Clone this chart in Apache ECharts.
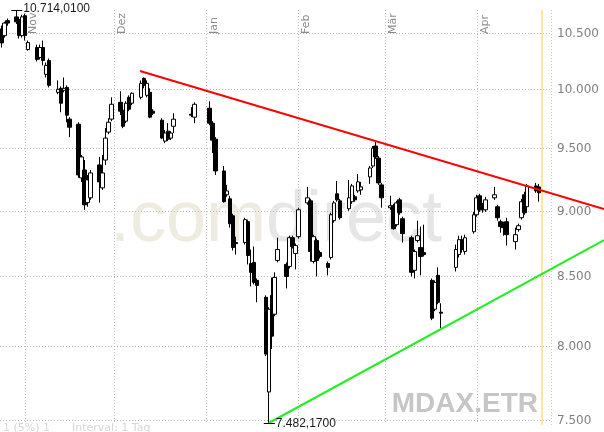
<!DOCTYPE html>
<html><head><meta charset="utf-8">
<script src="https://cdn.jsdelivr.net/npm/echarts@6/dist/echarts.min.js"></script>
<style>html,body{margin:0;padding:0;background:#fff}#c{width:604px;height:432px}</style>
</head><body><div id="c"></div>
<script>
// ---- data (MDAX, daily OHLC) ----
const dates = ['2007-10-24','2007-10-25','2007-10-26','2007-10-29','2007-10-30','2007-10-31','2007-11-01','2007-11-02',
'2007-11-05','2007-11-06','2007-11-07','2007-11-08','2007-11-09','2007-11-12','2007-11-13','2007-11-14','2007-11-15','2007-11-16',
'2007-11-19','2007-11-20','2007-11-21','2007-11-22','2007-11-23','2007-11-26','2007-11-27','2007-11-28','2007-11-29','2007-11-30',
'2007-12-03','2007-12-04','2007-12-05','2007-12-06','2007-12-07','2007-12-10','2007-12-11','2007-12-12','2007-12-13','2007-12-14',
'2007-12-17','2007-12-18','2007-12-19','2007-12-20','2007-12-21','2007-12-27','2007-12-28',
'2008-01-02','2008-01-03','2008-01-04','2008-01-07','2008-01-08','2008-01-09','2008-01-10','2008-01-11',
'2008-01-14','2008-01-15','2008-01-16','2008-01-17','2008-01-18','2008-01-21','2008-01-22','2008-01-23','2008-01-24','2008-01-25',
'2008-01-28','2008-01-29','2008-01-30','2008-01-31','2008-02-01','2008-02-04','2008-02-05','2008-02-06','2008-02-07','2008-02-08',
'2008-02-11','2008-02-12','2008-02-13','2008-02-14','2008-02-15','2008-02-18','2008-02-19','2008-02-20','2008-02-21','2008-02-22',
'2008-02-25','2008-02-26','2008-02-27','2008-02-28','2008-02-29','2008-03-03','2008-03-04','2008-03-05','2008-03-06','2008-03-07',
'2008-03-10','2008-03-11','2008-03-12','2008-03-13','2008-03-14','2008-03-17','2008-03-18','2008-03-19','2008-03-20',
'2008-03-25','2008-03-26','2008-03-27','2008-03-28','2008-03-31','2008-04-01','2008-04-02','2008-04-03','2008-04-04',
'2008-04-07','2008-04-08','2008-04-09','2008-04-10','2008-04-11','2008-04-14','2008-04-15','2008-04-16','2008-04-17','2008-04-18',
'2008-04-21','2008-04-22'];
const opens = [10538,10478,10615,10650,10626,10478,10661,10352,
10370,10281,10370,10131,10254,9974,10009,9991,10017,9744,
9701,9259,9323,9062,9100,9364,9179,9404,9635,9744,
9888,9820,9727,9931,9880,9931,10096,9948,9974,9812,
9735,9560,9643,9585,9684,9786,9761,
9837,9710,9576,9315,9124,9092,8959,8753,
8753,8913,8595,8603,8470,8346,7687,8360,8224,8618,
8588,8573,8790,8670,8798,9060,9076,8610,8768,8677,
8595,8640,8921,9132,9076,9014,9069,9108,9155,9163,
9267,9355,9519,9420,9203,9022,9037,8890,9084,8936,
8790,8544,8768,8715,8677,8470,8260,8507,8239,
8566,8662,8775,8685,8836,8967,9116,9045,9006,
9100,9030,8913,8898,8913,8760,8852,8944,9124,9030,
9195,9187];
const closes = [10412,10593,10593,10604,10478,10650,10478,10415,
10263,10370,10254,10210,10035,10000,9880,10009,9778,9676,
9283,9429,9045,9243,9299,9227,9299,9585,9718,9871,
9812,9684,9880,9829,9966,10052,10035,10052,9761,9795,
9585,9627,9576,9627,9744,9778,9871,
9710,9568,9315,9069,9155,8898,8715,8745,
8929,8655,8529,8455,8433,7944,8260,8069,8491,8700,
8499,8790,8723,8730,9006,9100,8685,8798,8618,8647,
8566,8967,9060,9084,8944,9100,9195,9084,9227,9187,
9339,9502,9429,9219,9100,9037,8859,9060,8983,8821,
8529,8685,8805,8647,8662,8196,8455,8310,8232,
8700,8775,8700,8790,8967,9100,9006,9006,9084,
9124,8944,8875,8867,8813,8813,8882,9069,8983,9195,
9155,9140];
const lows = [10370,10460,10569,10585,10451,10460,10433,10343,
10245,10263,10210,10104,10017,9957,9803,9974,9718,9593,
9259,9227,9006,9030,9084,9062,9163,9364,9618,9727,
9778,9668,9710,9812,9863,9914,10009,9931,9752,9778,
9576,9543,9560,9568,9627,9761,9710,
9693,9461,9283,9062,9108,8867,8693,8662,
8738,8588,8426,8440,8310,7930,7482.17,7979,8210,8603,
8411,8558,8708,8551,8783,9045,8610,8595,8499,8632,
8507,8625,8905,9069,8929,8998,9053,9069,9140,9124,
9211,9339,9412,9203,9022,9006,8852,8875,8967,8753,
8499,8484,8753,8507,8647,8182,8246,8296,8125,
8536,8640,8677,8662,8821,8952,8990,8983,8990,
9084,8921,8828,8805,8730,8700,8836,8929,8967,9014,
9140,9069];
const highs = [10569,10605,10635,10714.01,10650,10670,10680,10433,
10397,10397,10433,10236,10272,10078,10026,10104,10035,9761,
9718,9445,9404,9283,9323,9429,9445,9669,9752,9931,
9983,9837,9897,9948,9974,10078,10104,10078,10009,9829,
9752,9652,9710,9643,9795,9846,9888,
9897,9727,9593,9355,9203,9116,8975,8798,
8944,8929,8700,8723,8484,8360,8275,8491,8529,8790,
8603,8805,8805,8745,9022,9187,9092,8813,8783,8693,
8610,8983,9076,9235,9092,9243,9211,9124,9291,9227,
9355,9519,9560,9437,9219,9116,9053,9076,9100,8952,
8805,8700,8921,8875,8890,8484,8470,8566,8303,
8738,8805,8805,8813,8990,9124,9132,9060,9108,
9187,9045,8929,8913,8944,8867,8898,9092,9148,9211,
9219,9211];

const yTicks = [7500, 8000, 8500, 9000, 9500, 10000, 10500];
const yTickLabels = ['7.500', '8.000', '8.500', '9.000', '9.500', '10.000', '10.500'];
const monthStarts = ['2007-11-01', '2007-12-01', '2008-01-01', '2008-02-01', '2008-03-01', '2008-04-01'];
const monthLabels = ['Nov', 'Dez', 'Jan', 'Feb', 'Mär', 'Apr'];
const resistanceDates = ['2007-12-09T15:00:00', '2008-05-13T20:00:00'];
const resistanceValues = [10160, 9011];
const supportDates = ['2008-01-22T00:00:00', '2008-05-13T20:00:00'];
const supportValues = [7482.17, 8772];
const extremeDates = ['2007-10-29', '2008-01-22'];
const extremeValues = [10714.01, 7482.17];
const extremeLabels = ['10.714,0100', '7.482,1700'];
const todayDate = '2008-04-23';
const xMin = '2007-10-23T12:30:00';
const xMax = '2008-04-26T00:00:00';
const yMin = 7482.17, yMax = 10714.01;

// ---- chart ----
const L = Math.log;
const chart = echarts.init(document.getElementById('c'), null, {renderer: 'canvas'});
const candleData = dates.map((d, i) => [d, L(opens[i]), L(closes[i]), L(lows[i]), L(highs[i])]);

function trendSeries(ds, vs, color) {
  return {
    type: 'custom', z: 4, silent: true, clip: false,
    data: [[ds[0], L(vs[0]), ds[1], L(vs[1])]],
    encode: {x: [0, 2], y: [1, 3]},
    renderItem: function (params, api) {
      const a = api.coord([api.value(0), api.value(1)]);
      const b = api.coord([api.value(2), api.value(3)]);
      return {type: 'line', shape: {x1: a[0], y1: a[1], x2: b[0], y2: b[1]},
              style: {stroke: color, lineWidth: 2}};
    }
  };
}

chart.setOption({
  animation: false,
  backgroundColor: '#fff',
  grid: {left: 0, right: 53, top: 10, bottom: 9, containLabel: false},
  xAxis: {type: 'time', min: xMin, max: xMax, show: false, splitLine: {show: false}},
  yAxis: {type: 'value', min: L(yMin), max: L(yMax), show: false, splitLine: {show: false}, scale: true},
  graphic: [
    {type: 'text', x: 266, y: 221, z: 0, silent: true,
     style: {text: '.com', fill: '#eeebe0', font: '72px "Liberation Sans"', align: 'right', verticalAlign: 'middle'}},
    {type: 'text', x: 266, y: 221, z: 0, silent: true,
     style: {text: 'direct', fill: '#e6e6e6', font: '72px "Liberation Sans"', align: 'left', verticalAlign: 'middle'}},
    {type: 'text', x: 538, y: 404, z: 0, silent: true,
     style: {text: 'MDAX.ETR', fill: '#c6c6c6', font: 'bold 28px "Liberation Sans"', align: 'right', verticalAlign: 'middle'}},
    {type: 'text', x: 3, y: 428, z: 0, silent: true,
     style: {text: '1 (5%) 1', fill: '#d6d6d6', font: '11px "DejaVu Sans"', align: 'left', verticalAlign: 'middle'}},
    {type: 'text', x: 72, y: 428, z: 0, silent: true,
     style: {text: 'Interval: 1 Tag', fill: '#d6d6d6', font: '11px "DejaVu Sans"', align: 'left', verticalAlign: 'middle'}}
  ],
  series: [
    { // horizontal grid lines + value labels
      type: 'custom', z: 1, silent: true, clip: false,
      data: yTicks.map(v => [L(v)]),
      encode: {y: 0},
      renderItem: function (params, api) {
        const cs = params.coordSys;
        const y = Math.round(api.coord([xMin, api.value(0)])[1]) + 0.5;
        return {type: 'group', children: [
          {type: 'line', shape: {x1: cs.x, y1: y, x2: cs.x + cs.width, y2: y},
           style: {stroke: '#bdbdbd', lineWidth: 1, lineDash: [1, 2]}},
          {type: 'text', x: cs.x + cs.width + 6, y: y,
           style: {text: yTickLabels[params.dataIndex], fill: '#808080', font: '12px "DejaVu Sans"',
                   align: 'left', verticalAlign: 'middle'}}
        ]};
      }
    },
    { // month grid lines + rotated labels
      type: 'custom', z: 1, silent: true, clip: false,
      data: monthStarts.map(d => [d]),
      encode: {x: 0},
      renderItem: function (params, api) {
        const cs = params.coordSys;
        const x = Math.round(api.coord([api.value(0), L(yMax)])[0]) + 0.5;
        return {type: 'group', children: [
          {type: 'line', shape: {x1: x, y1: cs.y, x2: x, y2: cs.y + cs.height},
           style: {stroke: '#bdbdbd', lineWidth: 1, lineDash: [1, 2]}},
          {type: 'text', x: x + 2, y: 34, rotation: Math.PI / 2,
           style: {text: monthLabels[params.dataIndex], fill: '#8c8c8c', font: '11px "DejaVu Sans"',
                   align: 'left', verticalAlign: 'top'}}
        ]};
      }
    },
    { // right border and "today" marker
      type: 'custom', z: 1, silent: true, clip: false,
      data: [[xMax, 0], [todayDate, 1]],
      encode: {x: 0},
      renderItem: function (params, api) {
        const cs = params.coordSys;
        const today = params.dataIndex === 1;
        const x = Math.round(api.coord([api.value(0), L(yMax)])[0]) + (today ? 0 : 0.5);
        return {type: 'line', shape: {x1: x, y1: cs.y, x2: x, y2: cs.y + cs.height + 2},
                style: today ? {stroke: '#fde6a0', lineWidth: 2}
                             : {stroke: '#c8c8dc', lineWidth: 1, lineDash: [1, 2]}};
      }
    },
    {
      type: 'candlestick', z: 3, barWidth: 4,
      data: candleData,
      encode: {x: 0, y: [1, 2, 3, 4]},
      itemStyle: {color: '#ffffff', color0: '#000000', borderColor: '#000000', borderColor0: '#000000',
                  borderColorDoji: '#000000', borderWidth: 1}
    },
    trendSeries(resistanceDates, resistanceValues, '#ff0000'),
    trendSeries(supportDates, supportValues, '#22ee22'),
    { // high / low markers
      type: 'custom', z: 5, silent: true, clip: false,
      data: extremeDates.map((d, i) => [d, L(extremeValues[i])]),
      encode: {x: 0, y: 1},
      renderItem: function (params, api) {
        const p = api.coord([api.value(0), api.value(1)]);
        const y = Math.round(p[1]) + 0.5;
        return {type: 'group', children: [
          {type: 'line', shape: {x1: p[0] - 5, y1: y, x2: p[0] + 6, y2: y}, style: {stroke: '#000', lineWidth: 1}},
          {type: 'text', x: p[0] + 7, y: y - (params.dataIndex === 0 ? 2 : 0),
           style: {text: extremeLabels[params.dataIndex], fill: '#1a1a1a', font: '12px "Liberation Sans"',
                   align: 'left', verticalAlign: 'middle'}}
        ]};
      }
    }
  ]
});
</script>
</body></html>
